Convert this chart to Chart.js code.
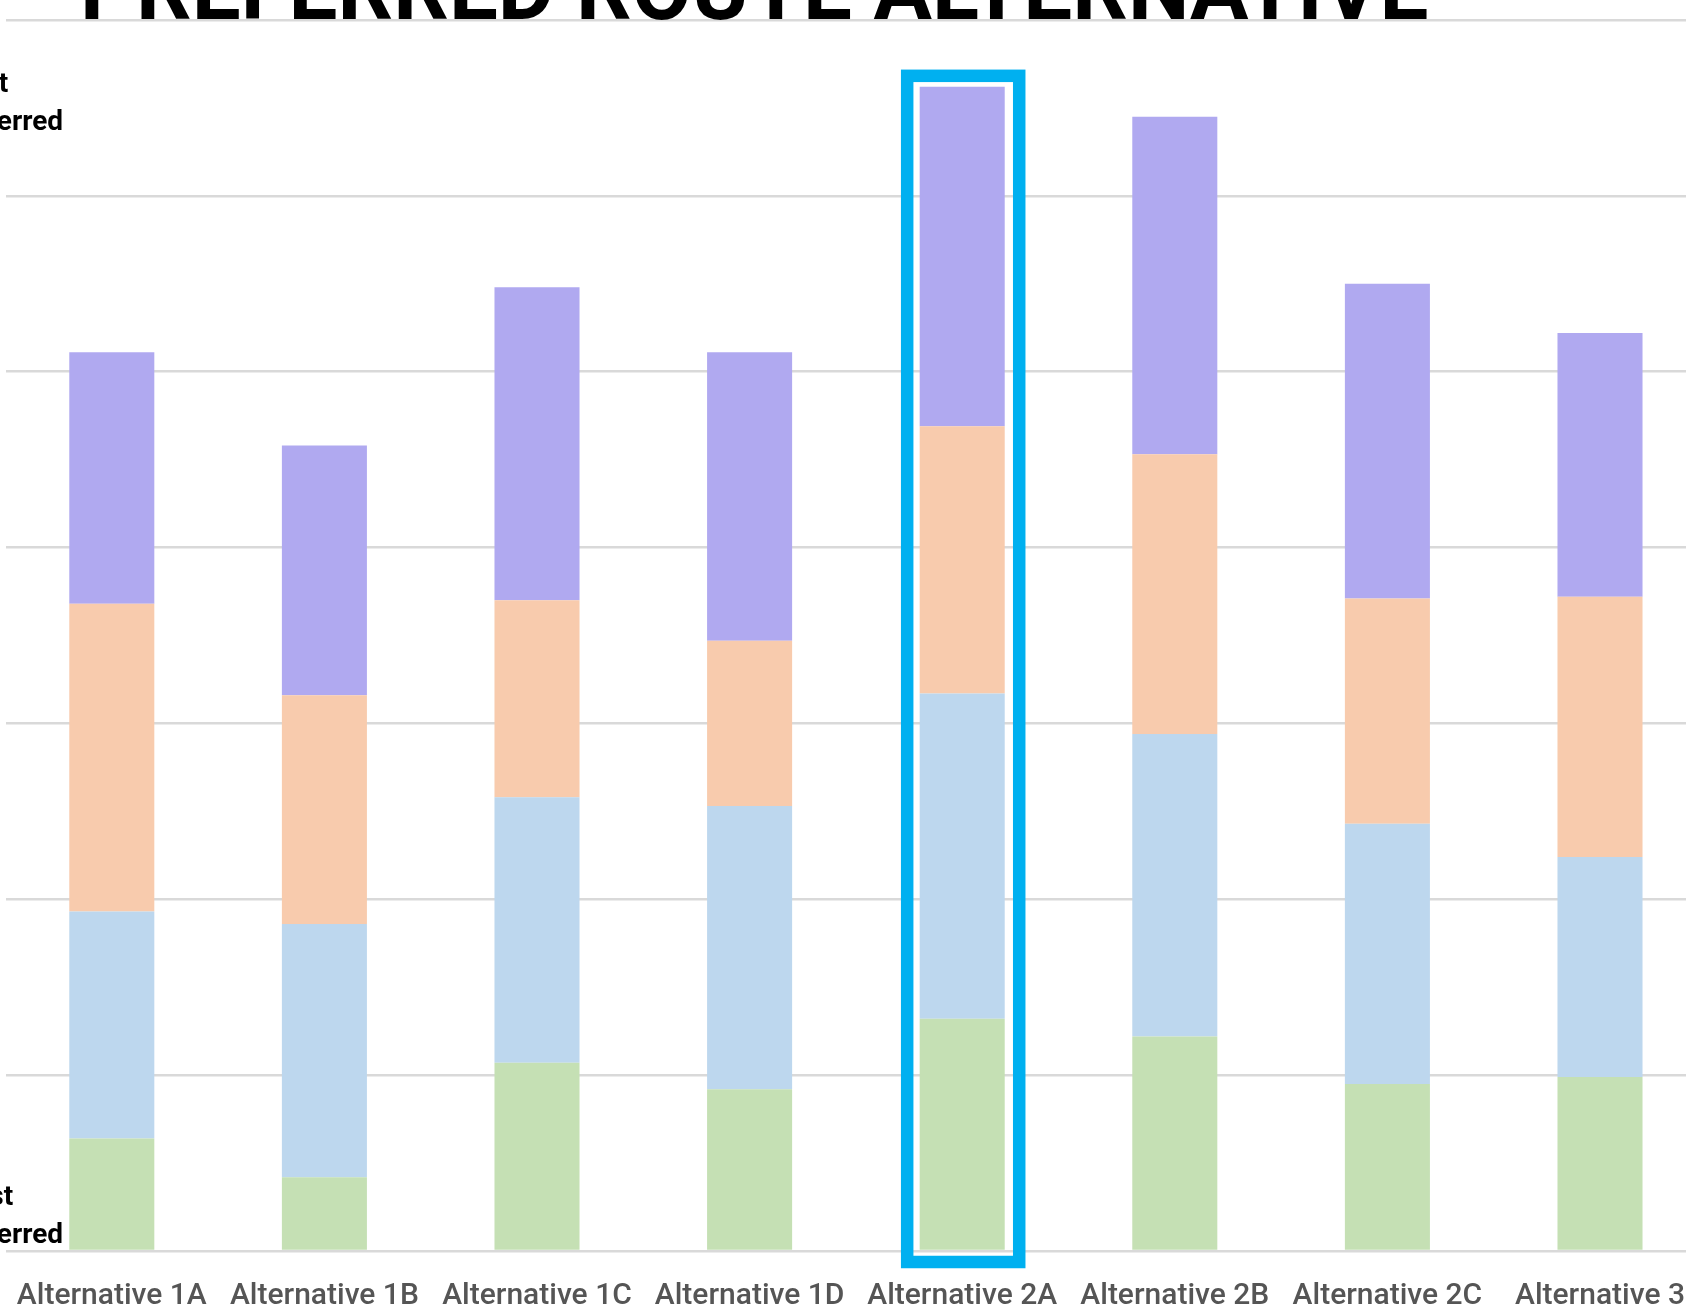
<!DOCTYPE html>
<html>
<head>
<meta charset="utf-8">
<script src="https://cdn.jsdelivr.net/npm/chart.js@4"></script>
<style>
  html, body { margin: 0; padding: 0; background: #fff; overflow: hidden; }
  #wrap { position: absolute; left: 0; top: 0; width: 1720px; height: 1310px; }
</style>
</head>
<body>
<div id="wrap"><canvas id="routeChart" width="1720" height="1310"></canvas></div>
<script>
// chart values
const categories = ["Alternative 1A", "Alternative 1B", "Alternative 1C", "Alternative 1D",
                    "Alternative 2A", "Alternative 2B", "Alternative 2C", "Alternative 3"];
const greenVals  = [0.64, 0.42, 1.07, 0.92, 1.32, 1.22, 0.95, 0.99];
const blueVals   = [1.29, 1.44, 1.51, 1.61, 1.85, 1.72, 1.48, 1.25];
const orangeVals = [1.75, 1.30, 1.12, 0.94, 1.52, 1.59, 1.28, 1.48];
const purpleVals = [1.43, 1.42, 1.78, 1.64, 1.93, 1.92, 1.79, 1.50];
const seriesNames = ["Rank 4", "Rank 3", "Rank 2", "Rank 1"];
const highlighted = ["Alternative 2A"];
const chartTitle = "PREFERRED ROUTE ALTERNATIVE";
const topLabel = ["Most", "Preferred"];
const bottomLabel = ["Least", "Preferred"];

// title, side labels and highlight box
const extrasPlugin = {
    id: "extras",
    afterDraw(chart) {
        const ctx = chart.ctx;
        const y = chart.scales.y;
        ctx.save();
        ctx.fillStyle = "#000";
        ctx.font = "bold 87px Roboto";
        ctx.textAlign = "left";
        ctx.textBaseline = "alphabetic";
        ctx.fillText(chartTitle, 80, 19);

        // side labels are left aligned, partly cut off by the page edge
        ctx.font = "bold 28px Roboto";
        ctx.fillText(topLabel[0], -56, 92);
        ctx.fillText(topLabel[1], -56, 130);
        ctx.fillText(bottomLabel[0], -56, 1205);
        ctx.fillText(bottomLabel[1], -56, 1243);

        // box around the preferred alternative
        const topMeta = chart.getDatasetMeta(chart.data.datasets.length - 1);
        ctx.strokeStyle = "#00B0F0";
        ctx.lineWidth = 12.5;
        highlighted.forEach(name => {
            const i = categories.indexOf(name);
            const bar = topMeta.data[i];
            const base = y.getPixelForValue(0);
            const left = bar.x - bar.width / 2 - 12.5;
            const right = bar.x + bar.width / 2 + 14.5;
            ctx.strokeRect(left, bar.y - 11, right - left, base + 11 - (bar.y - 11));
        });
        ctx.restore();
    }
};

const ctx = document.getElementById("routeChart");
new Chart(ctx, {
    type: "bar",
    data: {
        labels: categories,
        datasets: [
            { label: seriesNames[0], data: greenVals,  backgroundColor: "#C5E0B4" },
            { label: seriesNames[1], data: blueVals,   backgroundColor: "#BDD7EE" },
            { label: seriesNames[2], data: orangeVals, backgroundColor: "#F8CBAD" },
            { label: seriesNames[3], data: purpleVals, backgroundColor: "#B0A9F0" },
        ],
    },
    options: {
        responsive: false,
        animation: false,
        devicePixelRatio: 1,
        layout: { padding: { left: 5.5, right: 13.7, top: 20, bottom: 0 } },
        datasets: { bar: { barPercentage: 0.4, categoryPercentage: 1 } },
        plugins: {
            legend: { display: false },
            tooltip: { enabled: false },
        },
        scales: {
            x: {
                stacked: true,
                grid: { display: false, drawTicks: false },
                border: { display: false },
                ticks: { color: "#555555", font: { family: "Roboto", size: 30, weight: 500 }, padding: 27, maxRotation: 0, autoSkip: false },
                afterFit: (scale) => {
                    scale.height = 59;
                    // labels may spill past the edges, like the original
                    scale.paddingLeft = 0;
                    scale.paddingRight = 0;
                },
            },
            y: {
                stacked: true,
                min: 0,
                max: 7,
                ticks: { display: false, stepSize: 1 },
                grid: { color: "#D9D9D9", lineWidth: 2.5, drawTicks: false },
                border: { display: false },
                afterFit: (scale) => { scale.width = 0; },
            },
        },
    },
    plugins: [extrasPlugin],
});
</script>
</body>
</html>
